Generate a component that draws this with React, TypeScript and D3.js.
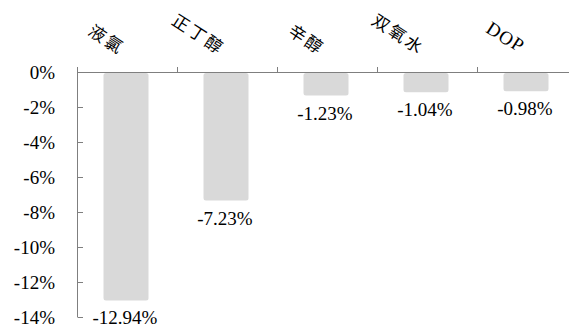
import React from "react";
import * as d3 from "d3";

const categories = ["液氯", "正丁醇", "辛醇", "双氧水", "DOP"];
const values = [-12.94, -7.23, -1.23, -1.04, -0.98];
const yTicks = [0, -2, -4, -6, -8, -10, -12, -14];

const W = 569;
const H = 331;
const ANGLE = 33;

export default function App() {
  const x = d3.scaleBand<string>().domain(categories).range([77, 577]).padding(0);
  const y = d3.scaleLinear().domain([-14, 0]).range([317, 72]);
  const bw = x.bandwidth() * 0.45;
  const font = "Liberation Serif";
  const cjkFont = "Noto Sans CJK SC";
  const axisColor = "#7f7f7f";
  const boundaries = categories.map((c) => x(c)!).concat([577]);
  const rad = (ANGLE * Math.PI) / 180;

  return (
    <svg width={W} height={H} style={{ position: "absolute", left: 0, top: 0 }}>
      <rect x={0} y={0} width={W} height={H} fill="#ffffff" />
      {categories.map((c, i) => {
        const v = values[i];
        const x0 = x(c)! + (x.bandwidth() - bw) / 2 - 1;
        const y0 = y(0) + 1;
        const y1 = y(v) + 2;
        const cx = x(c)! + x.bandwidth() / 2;
        const isLatin = /^[A-Z]+$/.test(c);
        const chars = Array.from(c);
        const n = chars.length;
        const steps = isLatin ? [14.5, 14.5, 12] : chars.map(() => 19.5);
        const endX = cx - 7;
        const endY = 50;
        const xs: number[] = [];
        const ys: number[] = [];
        let acc = 0;
        for (let k = n - 1; k >= 0; k--) {
          const d = acc + steps[k] / 2;
          acc += steps[k];
          xs[k] = endX - d * Math.cos(rad);
          ys[k] = endY - d * Math.sin(rad);
        }
        return (
          <g key={c}>
            <rect x={x0} y={y0} width={bw} height={y1 - y0} rx={2.5} ry={2.5} fill="#d9d9d9" />
            <text x={cx - 2} y={y1 + 24} textAnchor="middle" fontFamily={font} fontSize={19} fill="#000">
              {v.toFixed(2) + "%"}
            </text>
            <text
              x={xs.map((d) => d.toFixed(1)).join(" ")}
              y={ys.map((d) => d.toFixed(1)).join(" ")}
              textAnchor="middle"
              rotate={ANGLE}
              fontFamily={isLatin ? font : cjkFont}
              fontSize={isLatin ? 19 : 17}
              fill="#000"
            >
              {c}
            </text>
          </g>
        );
      })}
      <line x1={77.5} x2={77.5} y1={y(0)} y2={y(-14)} stroke={axisColor} strokeWidth={1} />
      {yTicks.map((t) => (
        <g key={t}>
          <line x1={77.5} x2={83} y1={Math.round(y(t)) + 0.5} y2={Math.round(y(t)) + 0.5} stroke={axisColor} />
          <text x={55} y={y(t) + 6.5} textAnchor="end" fontFamily={font} fontSize={19} fill="#000">
            {t + "%"}
          </text>
        </g>
      ))}
      <line x1={77} x2={W} y1={Math.round(y(0)) + 0.5} y2={Math.round(y(0)) + 0.5} stroke={axisColor} />
      {boundaries.map((b, i) => (
        <line key={i} x1={b + 0.5} x2={b + 0.5} y1={y(0) - 5} y2={y(0)} stroke={axisColor} />
      ))}
    </svg>
  );
}
